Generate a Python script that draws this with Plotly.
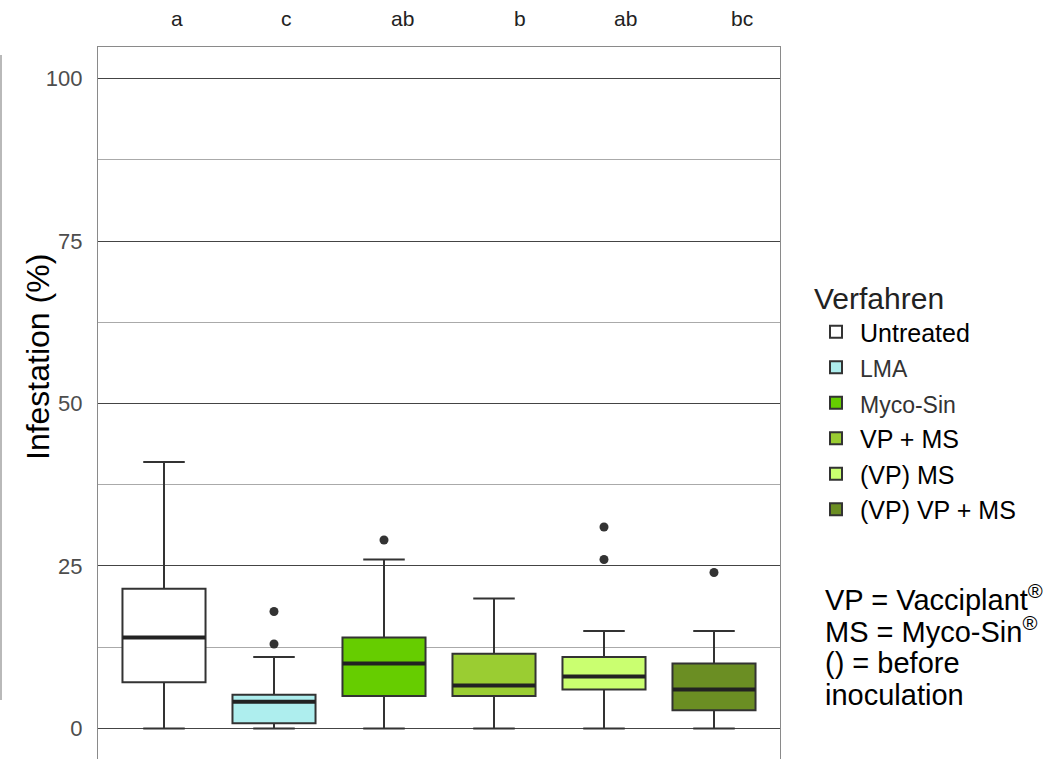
import plotly.graph_objects as go

# ---- data ----
categories = ["Untreated", "LMA", "Myco-Sin", "VP + MS", "(VP) MS", "(VP) VP + MS"]
q1 = [7.1, 0.8, 5.0, 5.0, 6.0, 2.8]
median = [14.0, 4.1, 10.0, 6.6, 8.0, 6.0]
q3 = [21.5, 5.2, 14.0, 11.5, 11.0, 10.0]
lowerfence = [0.0, 0.0, 0.0, 0.0, 0.0, 0.0]
upperfence = [41.0, 11.0, 26.0, 20.0, 15.0, 15.0]
outlier_cat = ["LMA", "LMA", "Myco-Sin", "(VP) MS", "(VP) MS", "(VP) VP + MS"]
outlier_val = [18.0, 13.0, 29.0, 31.0, 26.0, 24.0]
letters = ["a", "c", "ab", "b", "ab", "bc"]
letter_pos = [0.118, 1.114, 2.164, 3.236, 4.195, 5.259]
colors = ["#ffffff", "#aeeeee", "#66cd00", "#9acd32", "#caff70", "#6b8e23"]
y_ticks = [0, 25, 50, 75, 100]
note_lines = ["VP = Vacciplant<sup>®</sup>", "MS = Myco-Sin<sup>®</sup>",
              "() = before", "inoculation"]
small_legend = {"LMA", "Myco-Sin"}

W, H = 1057, 759
L, R, T, B = 98, 277, 47, 0
pw, ph = W - L - R, H - T - B

def px_x(p):
    return (p - L) / pw

def px_y(p):
    return 1 - (p - T) / ph

fig = go.Figure()
for i, c in enumerate(categories):
    nm = c
    if c in small_legend:
        nm = "<span style='font-size:23px;color:#333333'>%s</span>" % c
    fig.add_trace(go.Box(
        x=[c], q1=[q1[i]], median=[median[i]], q3=[q3[i]],
        lowerfence=[lowerfence[i]], upperfence=[upperfence[i]],
        name=nm, width=0.755, fillcolor=colors[i],
        line=dict(color="#333333", width=2),
        boxpoints=False, hoverinfo="skip",
    ))

# thicker median lines
fig.add_trace(go.Scatter(
    x=categories, y=median, mode="markers", showlegend=False, hoverinfo="skip",
    marker=dict(symbol="line-ew-open", size=59, color="#222222",
                line=dict(color="#222222", width=4)),
))

# outliers
fig.add_trace(go.Scatter(
    x=outlier_cat, y=outlier_val, mode="markers", showlegend=False,
    hoverinfo="skip", marker=dict(color="#333333", size=9),
))

annotations = []
for lt, pos in zip(letters, letter_pos):
    annotations.append(dict(
        x=pos, y=px_y(18), xref="x", yref="paper", text=lt, showarrow=False,
        font=dict(family="Liberation Sans, Arial", size=21, color="#222222"),
        xanchor="center", yanchor="middle"))

annotations.append(dict(
    x=px_x(38), y=px_y(357), xref="paper", yref="paper",
    text="Infestation (%)", textangle=-90, showarrow=False,
    font=dict(family="Liberation Sans, Arial", size=32, color="#000000"),
    xanchor="center", yanchor="middle"))

for k, line in enumerate(note_lines):
    annotations.append(dict(
        x=px_x(823), y=px_y(598 + 32.3 * k), xref="paper", yref="paper",
        text=line, showarrow=False, xanchor="left", yanchor="middle",
        font=dict(family="Liberation Sans, Arial", size=29, color="#000000")))

fig.update_layout(
    width=W, height=H,
    margin=dict(l=L, r=R, t=T, b=B, pad=0),
    paper_bgcolor="white", plot_bgcolor="white",
    boxmode="overlay",
    font=dict(family="Liberation Sans, Arial", color="#000000"),
    legend=dict(
        x=px_x(812), y=px_y(270), xanchor="left", yanchor="top",
        title=dict(text="Verfahren",
                   font=dict(size=30, color="#222222")),
        font=dict(size=25, color="#000000"),
        itemwidth=38,
        bgcolor="rgba(0,0,0,0)", tracegroupgap=0,
    ),
    annotations=annotations,
    shapes=[dict(type="line", xref="paper", yref="paper",
                 x0=px_x(1), x1=px_x(1), y0=px_y(55), y1=px_y(700),
                 line=dict(color="#8a8a8a", width=1.2))],
)

fig.update_xaxes(
    range=[-0.6, 5.6], showticklabels=False, ticks="", showgrid=False,
    showline=True, mirror=True, linecolor="#8a8a8a", linewidth=1.2,
    zeroline=False, categoryorder="array", categoryarray=categories,
)
fig.update_yaxes(
    range=[-4.7, 104.85], tickvals=y_ticks, ticks="",
    tickfont=dict(family="Liberation Sans, Arial", size=22, color="#4d4d4d"),
    ticklabelstandoff=10,
    showgrid=True, gridcolor="#444444", gridwidth=1.3,
    minor=dict(dtick=12.5, tick0=0, showgrid=True, gridcolor="#aaaaaa",
               gridwidth=1, ticks=""),
    showline=True, mirror=True, linecolor="#8a8a8a", linewidth=1.2,
    zeroline=False,
)

fig.write_html("out.html", config={"displayModeBar": False},
               post_script="document.body.style.margin='0';document.body.style.padding='0';")
